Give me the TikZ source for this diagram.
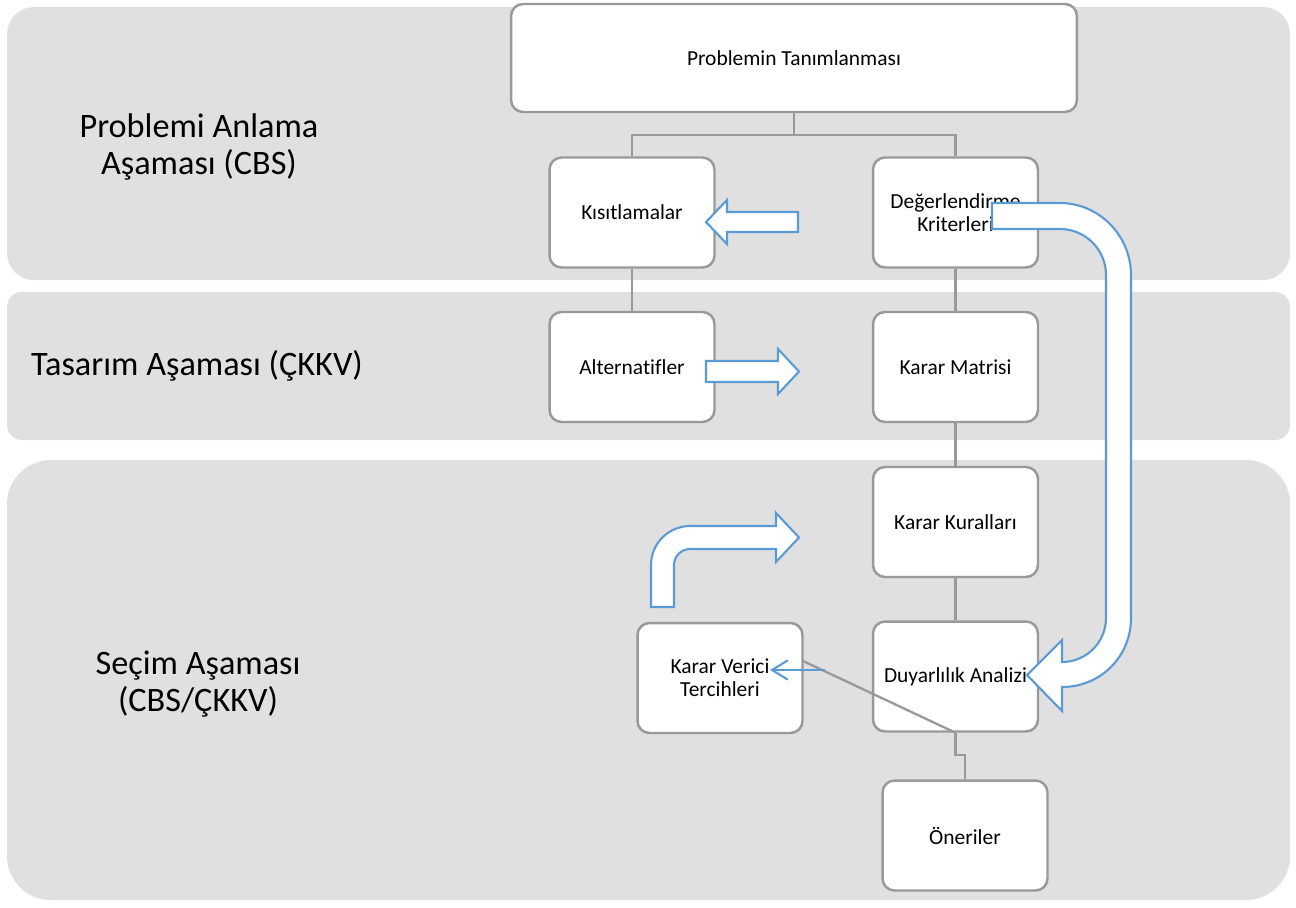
\documentclass[tikz,border=0pt]{standalone}
\usepackage{fontspec}
\setmainfont[Ligatures={NoCommon}]{Carlito}
\usetikzlibrary{arrows.meta}
\definecolor{bandgray}{HTML}{E0E0E0}
\definecolor{boxgray}{HTML}{999999}
\definecolor{arrblue}{HTML}{5B9BD5}
\begin{document}
\begin{tikzpicture}[x=0.02cm,y=-0.02cm,
  box/.style={draw=boxgray, line width=1.4pt, fill=white, rounded corners=0.24cm,
    minimum width=3.3cm, minimum height=2.2cm, align=center,
    font=\fontsize{12.2}{13.2}\selectfont, inner sep=1pt},
  conn/.style={draw=boxgray, line width=1.3pt},
  blk/.style={draw=arrblue, line width=1.2pt, fill=white, line join=miter},
  thinarrow/.style={draw=arrblue, line width=1.2pt, -{Straight Barb[length=9pt,width=11pt]}},
  lbl/.style={align=center, font=\fontsize{19.5}{21.5}\selectfont},
  band/.style={fill=bandgray}]
\useasboundingbox (0,0) rectangle (1296,907);
\fill[white] (0,0) rectangle (1296,907);
% bands
\fill[band, rounded corners=0.54cm] (7,7) rectangle (1290,280);
\fill[band, rounded corners=0.3cm] (7,292) rectangle (1290,440);
\fill[band, rounded corners=0.88cm] (7,460) rectangle (1290,900);
% labels
\node[lbl] (l1) at (199,147) {Problemi Anlama\\Aşaması (CBS)};
\node[lbl] (l2) at (197,366) {Tasarım Aşaması (ÇKKV)};
\node[lbl] (l3) at (198,684) {Seçim Aşaması\\(CBS/ÇKKV)};
% boxes
\node[box, minimum width=11.32cm, minimum height=2.16cm] (prob) at (794,58) {Problemin Tanımlanması};
\node[box] (kis) at (632,212.5) {Kısıtlamalar};
\node[box] (deg) at (955.5,212.5) {Değerlendirme\\Kriterleri};
\node[box] (alt) at (632,367) {Alternatifler};
\node[box] (mat) at (955.5,367) {Karar Matrisi};
\node[box] (kur) at (955.5,522) {Karar Kuralları};
\node[box] (kvt) at (720,678) {Karar Verici\\Tercihleri};
\node[box] (duy) at (955.5,676.5) {Duyarlılık Analizi};
\node[box] (one) at (965,835.5) {Öneriler};
% connectors
\coordinate (j1) at (794,135);
\draw[conn] (prob.south) -- (j1);
\draw[conn] (kis.north) |- (j1) -| (deg.north);
\draw[conn] (kis.south) -- (alt.north);
\draw[conn] (deg.south) -- (mat.north);
\draw[conn] (mat.south) -- (kur.north);
\draw[conn] (kur.south) -- (duy.north);
\coordinate (j2) at (955.5,755);
\draw[conn] (duy.south) -- (j2) -| (one.north);
\coordinate (dstart) at (803,661);
\draw[conn] (dstart) -- (duy.south);
% thin arrow
\coordinate (ta) at (825,670);
\coordinate (tb) at (770,670);
\draw[thinarrow] (ta) -- (tb);
% block arrows
\draw[blk] (798,212) -- (727,212) -- (727,200) -- (706,222) -- (727,244) -- (727,232) -- (798,232) -- cycle;
\draw[blk] (706,361) -- (778,361) -- (778,349) -- (799,371.5) -- (778,394) -- (778,382) -- (706,382) -- cycle;
\draw[blk] (651,607) -- (651,565) .. controls (651,543.5) and (668.5,526) .. (690,526) -- (776,526) -- (776,513) -- (799,537.5) -- (776,562) -- (776,549) -- (690,549) .. controls (681.2,549) and (674,556.2) .. (674,565) -- (674,607) -- cycle;
\draw[blk] (992,203) -- (1060,203) .. controls (1099.2,203) and (1131,235.8) .. (1131,275) -- (1131,618) .. controls (1131,656.6) and (1100.6,687) .. (1062,687) -- (1062,711) -- (1027,675) -- (1062,640) -- (1062,662) .. controls (1086.3,662) and (1106,642.3) .. (1106,618) -- (1106,275) .. controls (1106,249.6) and (1085.4,229) .. (1060,229) -- (992,229) -- cycle;
\end{tikzpicture}
\end{document}
